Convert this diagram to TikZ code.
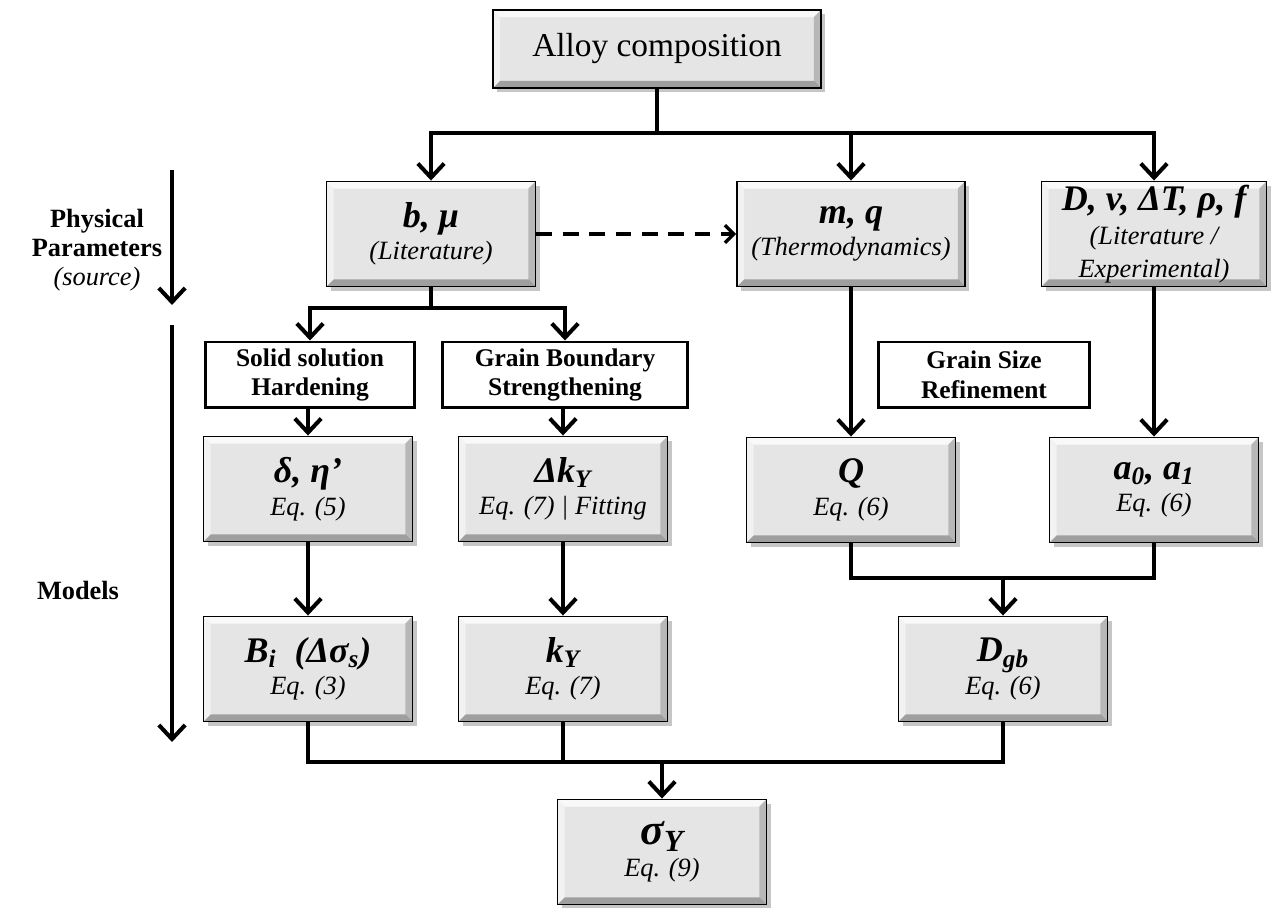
\documentclass[tikz,border=0pt]{standalone}
\usepackage{fontspec}
\setmainfont{Liberation Serif}
\usetikzlibrary{arrows.meta, shadows}

\newcommand{\mainLab}[1]{{\fontsize{20.5}{24}\selectfont\bfseries\itshape #1}}
\newcommand{\eqLab}[1]{{\fontsize{15}{17}\selectfont\itshape #1}}

\begin{document}
\begin{tikzpicture}[x=0.02cm, y=-0.02cm, ->, >={Straight Barb[length=8pt,width=15pt]},
			line width=2.3pt, node font=\fontsize{15}{18.5}\selectfont,
			grayBox/.style={draw, line width=1.1pt, fill=gray!20, minimum width=4.18cm, minimum height=2.1cm,
				align=center, inner sep=2pt,
				drop shadow={shadow xshift=2.5pt, shadow yshift=-2.5pt, opacity=.45},
				path picture={
					\coordinate (nw) at (path picture bounding box.north west);
					\coordinate (ne) at (path picture bounding box.north east);
					\coordinate (sw) at (path picture bounding box.south west);
					\coordinate (se) at (path picture bounding box.south east);
					\fill[white, opacity=.8] (nw) -- (ne) -- ([shift={(-4pt,-4pt)}]ne) -- ([shift={(4pt,-4pt)}]nw) -- cycle;
					\fill[white, opacity=.5] (nw) -- (sw) -- ([shift={(4pt,4pt)}]sw) -- ([shift={(4pt,-4pt)}]nw) -- cycle;
					\fill[black, opacity=.3] (sw) -- (se) -- ([shift={(-4pt,4pt)}]se) -- ([shift={(4pt,4pt)}]sw) -- cycle;
					\fill[black, opacity=.2] (ne) -- (se) -- ([shift={(-4pt,4pt)}]se) -- ([shift={(-4pt,-4pt)}]ne) -- cycle;
				}},
			whiteBox/.style={draw, line width=1.7pt, fill=white, minimum height=1.32cm, align=center,
				inner sep=2pt, font=\fontsize{14.5}{17}\selectfont\bfseries},
			sideLab/.style={align=center, font=\fontsize{15}{16.5}\selectfont\bfseries}]

			\useasboundingbox (0,0) rectangle (1275,908);

			% top row
			\node [grayBox, minimum width=6.56cm, minimum height=1.56cm] at (657,49) (alloy) {{\fontsize{19}{22}\selectfont Alloy composition}};

			\node [grayBox] at (431,234) (bMu) {\mainLab{b, μ}\\\eqLab{(Literature)}};
			\node [grayBox, minimum width=4.56cm] at (851,234) (mQ) {\mainLab{m, q}\\\eqLab{(Thermodynamics)}};
			\node [grayBox, minimum width=4.5cm] at (1154,234) (dV) {\mainLab{D, v, ΔT, ρ, f}\\[1pt]\eqLab{(Literature /}\\\eqLab{Experimental)}};

			% mechanisms
			\node [whiteBox, minimum width=4.18cm] at (310,375) (solidSol) {Solid solution\\Hardening};
			\node [whiteBox, minimum width=4.92cm] at (565,375) (grainBnd) {Grain Boundary\\Strengthening};
			\node [whiteBox, minimum width=4.24cm] at (984,375) (grainSize) {Grain Size\\Refinement};

			% models
			\node [grayBox] at (308,489) (deltaEta) {\mainLab{δ, η’}\\\eqLab{Eq. (5)}};
			\node [grayBox] at (563,489) (dkY) {\mainLab{Δk\textsubscript{Y}}\\\eqLab{Eq. (7) | Fitting}};
			\node [grayBox] at (851,490) (qBox) {\mainLab{Q}\\\eqLab{Eq. (6)}};
			\node [grayBox] at (1154,490) (aBox) {\mainLab{a\textsubscript{0}, a\textsubscript{1}}\\\eqLab{Eq. (6)}};

			\node [grayBox] at (308,669) (biBox) {\mainLab{B\textsubscript{i}\ \ (Δσ\textsubscript{s})}\\\eqLab{Eq. (3)}};
			\node [grayBox] at (563,669) (kyBox) {\mainLab{k\textsubscript{Y}}\\\eqLab{Eq. (7)}};
			\node [grayBox] at (1003,669) (dgbBox) {\mainLab{D\textsubscript{gb}}\\\eqLab{Eq. (6)}};

			\node [grayBox] at (662,852) (sigmaY) {{\fontsize{25}{27}\selectfont\bfseries\itshape σ\textsubscript{Y}}\\\eqLab{Eq. (9)}};

			% side labels
			\node [sideLab] at (97,250) (physLab) {Physical\\Parameters\\\textmd{\textit{(source)}}};
			\node [sideLab] at (78,590) (modelLab) {Models};

			\coordinate (physTop) at (172,170);
			\coordinate (physEnd) at (172,305);
			\coordinate (modelTop) at (172,325);
			\coordinate (modelEnd) at (172,742);
			\draw (physTop) -- (physEnd);
			\draw (modelTop) -- (modelEnd);

			% connectors
			\coordinate (topBus) at (657,133);
			\draw[-] (alloy) -- (topBus);
			\draw (topBus) -| (bMu);
			\draw (topBus) -| (mQ);
			\draw (topBus) -| (dV);

			\draw[line width=1.9pt, dash pattern=on 9pt off 6pt, >={Straight Barb[length=5pt,width=10pt]}] (bMu) -- (mQ);

			\coordinate (bMuBus) at (431,308);
			\draw[-] (bMu) -- (bMuBus);
			\draw (bMuBus) -| (solidSol);
			\draw (bMuBus) -| (grainBnd);

			\draw (solidSol.south -| deltaEta.north) -- (deltaEta);
			\draw (grainBnd.south -| dkY.north) -- (dkY);
			\draw (mQ) -- (qBox);
			\draw (dV) -- (aBox);

			\draw (deltaEta) -- (biBox);
			\draw (dkY) -- (kyBox);

			\coordinate (dgbBus) at (1003,578);
			\draw[-] (qBox.south) |- (dgbBus) -| (aBox.south);
			\draw (dgbBus) -- (dgbBox);

			\coordinate (sigmaBus) at (662,762);
			\draw[-] (biBox.south) |- (sigmaBus) -| (dgbBox.south);
			\draw[-] (kyBox.south) -- (kyBox.south |- sigmaBus);
			\draw (sigmaBus) -- (sigmaY);

		\end{tikzpicture}
\end{document}
